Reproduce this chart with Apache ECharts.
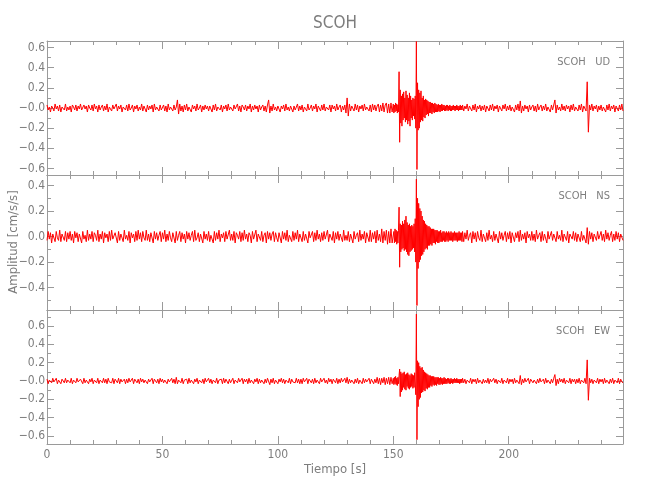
<!DOCTYPE html>
<html><head><meta charset="utf-8">
<script src="https://cdn.jsdelivr.net/npm/echarts@6/dist/echarts.min.js"></script>
<style>html,body{margin:0;padding:0;background:#fff}#c{width:650px;height:500px}</style>
</head><body><div id="c"></div>
<script>
// ---------------- data ----------------
const stationName = 'SCOH';
const components = ['UD', 'NS', 'EW'];
const xTitle = 'Tiempo [s]';
const yTitle = 'Amplitud [cm/s/s]';

// sampling: pre-event 0..149.5 s every 0.5 s, event 150..179.75 s every 0.25 s, post 180..249.5 s every 0.5 s
const preStart = 0, preDt = 0.5;
const eventStart = 150, eventDt = 0.25;
const postStart = 180, postDt = 0.5;

const udPre = [
 .03,-.02,.01,-.04,.02,.00,-.03,.04,-.01,.02,-.03,.03,-.04,.01,.02,-.02,.04,-.03,.01,-.02,
 .02,-.04,.03,.01,-.02,.03,-.03,.02,-.01,.04,-.02,-.03,.03,-.01,.02,-.04,.03,.00,-.02,.03,
 -.03,.04,-.01,.02,-.04,.03,-.02,.01,.03,-.03,.02,-.02,.04,-.04,.01,.02,-.03,.03,-.01,-.02,
 .04,-.03,.02,-.01,.03,-.04,.01,.02,-.02,.03,-.03,.04,-.02,.00,.03,-.04,.02,-.01,.03,-.03,
 .01,-.02,.04,-.03,.02,.01,-.04,.03,-.02,.02,-.01,.03,-.04,.04,-.02,.01,.02,-.03,.03,-.02,
 -.01,.03,-.03,.02,-.04,.04,-.02,.01,.02,-.03,.03,-.02,.01,.08,-.06,.04,-.03,.02,-.04,.03,
 -.02,.04,-.03,.01,.02,-.04,.03,-.01,.02,-.03,.04,-.02,.00,.03,-.04,.02,-.02,.03,-.01,.02,
 -.03,.02,.01,-.04,.03,-.02,.04,-.03,.01,.02,-.02,.03,-.04,.02,-.01,.03,-.03,.04,-.02,.01,
 .02,-.03,.03,-.01,-.02,.04,-.03,.02,-.04,.03,.01,-.02,.03,-.03,.02,-.01,.04,-.04,.02,-.02,
 .03,-.01,.02,-.04,.03,-.02,.01,.03,-.03,.02,-.04,.03,.08,-.05,.02,-.03,.04,-.02,.01,-.03,
 .02,.03,-.04,.02,-.01,.03,-.03,.04,-.02,.01,-.03,.02,.03,-.04,.02,-.02,.01,.04,-.03,.02,
 -.02,.03,-.04,.01,.02,-.03,.04,-.02,.00,.03,-.03,.02,-.01,.04,-.04,.02,.01,-.03,.03,-.02,
 .04,-.03,.01,.02,-.02,.03,-.04,.03,-.01,.02,-.03,.04,-.02,.01,.03,-.04,.02,-.02,.03,-.05,
 .10,-.08,.04,-.03,.02,.01,-.03,.04,-.02,.03,-.04,.02,-.01,.03,-.03,.04,-.02,.01,.02,-.03,
 .03,-.04,.04,-.02,.03,-.03,.02,.04,-.04,.03,-.03,.05,-.04,.03,.05,-.05,.04,-.05,.05,-.04
];
const udEvent = [
 .04,-.05,.03,-.04,.05,-.03,.04,-.05,.03,-.04,
 .36,-.34,.18,-.15,.12,-.18,.14,-.12,.16,-.1,
 .1,-.14,.17,-.12,.13,-.16,.1,-.13,.15,-.18,
 .12,-.1,.08,-.12,.1,-.08,.09,-.11,.12,-.2,
 .66,-.61,.25,-.22,.18,-.2,.15,-.14,.17,-.12,
 .1,-.13,.12,-.09,.08,-.1,.09,-.07,.08,-.06,
 .07,-.08,.06,-.05,.06,-.05,.05,-.06,.05,-.04,
 .04,-.05,.05,-.04,.04,-.04,.03,-.04,.04,-.03,
 .03,-.04,.03,-.03,.04,-.03,.03,-.02,.03,-.03,
 .02,-.03,.03,-.02,.03,-.03,.02,-.02,.03,-.03,
 .02,-.03,.02,-.02,.03,-.02,.02,-.03,.02,-.02,
 .03,-.02,.02,-.03,.02,-.02,.03,-.02,.02,-.02
];
const udPost = [
 .03,-.03,.02,-.01,.04,-.03,.02,.01,-.03,.03,-.02,.04,-.04,.02,-.01,.03,-.03,.02,-.02,.03,
 -.04,.02,.01,-.03,.03,-.02,.04,-.03,.02,-.01,.03,-.04,.02,.02,-.03,.03,-.01,.04,-.03,.02,
 -.02,.03,-.03,.01,.02,-.04,.03,-.02,.04,-.03,.07,-.05,.02,-.03,.03,-.01,.02,-.04,.03,-.02,
 .01,.03,-.03,.02,-.04,.04,-.02,.01,.03,-.03,.02,-.02,.04,-.03,.01,.02,-.04,.03,-.02,.03,
 .08,-.05,.03,-.02,.01,-.03,.04,-.02,.02,-.03,.03,-.01,.02,-.04,.03,-.02,.04,-.03,.01,.02,
 -.03,.03,-.02,.04,-.04,.02,.01,-.03,.26,-.24,.03,-.02,.04,-.03,.02,-.01,.03,-.04,.02,-.02,
 .03,-.03,.01,.02,-.04,.03,-.02,.04,-.03,.02,-.01,.03,-.04,.02,.02,-.03,.03,-.02,.04,-.03
];

const nsPre = [
 -.03,.04,-.02,.03,-.05,.02,.03,-.04,.04,-.01,-.03,.05,-.04,.02,.01,-.03,.04,-.04,.03,-.02,
 .04,-.03,.02,-.05,.04,-.01,.03,-.04,.02,.03,-.05,.04,-.02,.01,-.04,.05,-.03,.02,-.02,.04,
 -.04,.03,.01,-.03,.05,-.04,.02,-.02,.04,-.05,.03,-.01,.02,-.04,.04,-.03,.05,-.02,-.03,.03,
 .02,-.05,.04,-.03,.02,.03,-.04,.05,-.02,.01,-.03,.04,-.05,.03,-.01,.02,-.04,.04,-.03,.05,
 -.02,.03,-.04,.04,-.01,-.03,.05,-.03,.02,-.04,.03,.02,-.05,.04,-.02,.03,-.03,.01,.04,-.04,
 .03,-.02,.05,-.04,.02,-.03,.04,-.01,-.04,.03,.02,-.05,.04,-.03,.01,.04,-.04,.03,-.02,.02,
 -.05,.04,-.02,.03,-.03,.01,.04,-.04,.05,-.03,-.01,.03,-.04,.02,.03,-.05,.04,-.02,.02,-.03,
 .04,-.04,.01,.02,-.05,.04,-.03,.03,-.02,.05,-.04,.02,-.01,.03,-.04,.04,-.02,-.03,.05,-.03,
 .02,-.03,.04,-.05,.03,.01,-.02,.04,-.04,.03,-.03,.05,-.02,.02,-.04,.03,.01,-.05,.04,-.02,
 -.03,.05,-.04,.02,.02,-.03,.04,-.04,.01,.03,-.05,.04,-.02,.03,-.03,.02,.04,-.04,.03,-.01,
 -.04,.03,.02,-.05,.04,-.02,.03,-.03,.05,-.04,.01,.02,-.04,.04,-.03,.03,-.02,.05,-.04,.02,
 .01,-.04,.04,-.03,.02,.03,-.05,.04,-.01,-.02,.04,-.04,.03,-.03,.05,-.02,.02,-.04,.03,-.03,
 .04,-.02,-.03,.05,-.04,.02,.01,-.03,.04,-.05,.03,-.02,.04,-.03,.02,.02,-.04,.05,-.03,.01,
 -.03,.04,-.04,.02,.03,-.05,.04,-.02,.01,.03,-.04,.05,-.03,.02,-.02,.04,-.05,.03,.02,-.04,
 .05,-.04,.03,-.02,.04,-.05,.05,-.03,.02,-.04,.06,-.05,.04,-.03,.05,-.06,.04,-.05,.06,-.05
];
const nsEvent = [
 -.05,.04,-.05,.06,-.04,.05,-.06,.04,-.05,.05,
 .23,-.24,.1,-.12,.09,-.1,.12,-.09,.1,-.11,
 .13,-.1,.16,-.12,.11,-.14,.09,-.15,.1,-.12,
 .08,-.11,.09,-.1,.08,-.09,.1,-.12,.14,-.2,
 .45,-.54,.3,-.25,.26,-.2,.22,-.18,.2,-.15,
 .16,-.14,.13,-.12,.12,-.1,.1,-.09,.09,-.1,
 .08,-.07,.08,-.07,.07,-.06,.06,-.07,.06,-.05,
 .06,-.05,.05,-.06,.05,-.04,.05,-.05,.04,-.05,
 .04,-.04,.05,-.04,.03,-.04,.04,-.03,.04,-.04,
 .03,-.04,.04,-.03,.03,-.04,.04,-.03,.03,-.03,
 .04,-.03,.03,-.04,.03,-.03,.04,-.03,.03,-.03,
 .03,-.04,.03,-.03,.04,-.03,.03,-.03,.03,-.04
];
const nsPost = [
 .04,-.04,.03,-.02,.05,-.03,.01,.03,-.05,.04,-.02,.03,-.04,.04,-.01,-.03,.05,-.04,.02,.02,
 -.04,.03,-.03,.05,-.02,.01,-.04,.04,-.03,.02,.03,-.05,.04,-.02,.03,-.03,.01,.04,-.04,.03,
 -.02,.04,-.05,.03,.02,-.04,.03,-.01,.04,-.04,.05,-.03,.02,-.02,.03,-.05,.04,-.01,.02,-.03,
 .04,-.03,.02,-.04,.05,-.02,.01,.03,-.04,.04,-.03,.02,.03,-.05,.04,-.02,-.02,.04,-.03,.02,
 .03,-.04,.04,-.02,.01,-.03,.05,-.04,.02,.03,-.03,.04,-.05,.02,.01,-.02,.04,-.03,.03,-.04,
 .02,.03,-.04,.04,-.03,.01,.02,-.05,.07,-.06,.04,-.02,.03,-.04,.02,.03,-.03,.04,-.02,-.03,
 .04,-.03,.02,-.04,.05,-.02,.03,-.03,.01,.04,-.04,.02,-.03,.04,-.02,.03,-.04,.02,.03,-.03
];

const ewPre = [
 .02,-.03,.01,.02,-.02,.03,-.01,-.02,.03,-.03,.01,.02,-.03,.02,.00,-.02,.03,-.02,.01,-.01,
 -.02,.03,-.03,.01,.02,-.02,.03,-.01,-.02,.02,.01,-.03,.03,-.02,.01,.02,-.03,.02,-.01,.03,
 -.03,.01,.02,-.02,.03,-.03,.01,.00,-.02,.03,-.02,.02,-.03,.03,-.01,.01,-.02,.03,-.03,.02,
 .01,-.02,.03,-.03,.02,-.01,.01,.02,-.03,.02,-.02,.03,-.01,-.02,.03,-.03,.02,.01,-.02,.02,
 -.03,.03,-.01,.02,-.02,.01,.03,-.03,.02,-.01,-.02,.03,-.03,.02,.01,-.02,.02,-.03,.03,-.01,
 .02,-.02,.01,.03,-.03,.02,-.01,-.02,.03,-.02,.02,-.03,.04,-.03,.01,.02,-.02,.03,-.03,.01,
 -.01,.02,-.03,.03,-.02,.01,.02,-.03,.02,-.01,.03,-.03,.01,.02,-.02,.02,-.03,.03,-.01,-.02,
 .03,-.02,.02,-.03,.01,.02,-.02,.03,-.03,.01,-.01,.02,-.03,.03,-.02,.02,.01,-.03,.02,-.02,
 -.02,.03,-.03,.01,.02,-.02,.03,-.01,-.02,.03,-.03,.02,-.01,.02,-.03,.03,-.02,.01,.02,-.03,
 .02,-.01,.03,-.03,.02,-.02,.01,.03,-.03,.02,-.02,.03,.05,-.04,.02,-.02,.03,-.03,.01,.02,
 -.03,.02,-.01,.03,-.02,.02,-.03,.01,.02,-.02,.03,-.03,.02,-.01,.01,-.02,.03,-.02,.02,-.03,
 .02,-.03,.03,-.01,-.02,.03,-.03,.02,.01,-.02,.02,-.03,.03,-.02,.01,.02,-.03,.03,-.01,-.02,
 .03,-.02,.01,-.03,.03,-.01,.02,-.03,.02,.01,-.02,.03,-.03,.02,-.02,.03,-.01,-.02,.03,-.02,
 .04,-.03,.02,-.02,.01,.03,-.03,.02,-.02,.03,-.03,.01,.02,-.03,.03,-.02,.02,-.01,-.02,.03,
 -.03,.02,.03,-.03,.02,-.02,.04,-.03,.03,-.04,.03,-.02,.04,-.04,.03,-.03,.04,-.04,.04,-.03
];
const ewEvent = [
 .03,-.04,.04,-.03,.05,-.04,.03,-.05,.04,-.03,
 .06,.13,-.17,.1,-.12,.08,-.1,.09,-.07,.1,
 -.09,.07,-.1,.08,-.06,.09,-.08,.07,-.09,.06,
 -.07,.08,-.06,.07,-.08,.06,-.07,.09,.1,-.15,
 .73,-.64,.22,-.28,.2,-.2,.16,-.18,.14,-.13,
 .15,-.12,.12,-.1,.1,-.11,.09,-.08,.08,-.09,
 .07,-.07,.06,-.07,.06,-.05,.05,-.06,.05,-.04,
 .05,-.05,.04,-.04,.04,-.05,.04,-.03,.04,-.04,
 .03,-.04,.04,-.03,.03,-.04,.03,-.03,.04,-.03,
 .03,-.03,.02,-.03,.03,-.02,.03,-.03,.02,-.03,
 .03,-.02,.02,-.03,.02,-.02,.03,-.02,.02,-.02,
 .03,-.02,.02,-.02,.02,-.03,.02,-.02,.02,-.02
];
const ewPost = [
 .03,-.02,.02,-.03,.01,.02,-.02,.03,-.03,.02,-.01,.02,-.03,.03,-.02,.01,.02,-.03,.02,-.02,
 .01,-.02,.03,-.03,.02,-.01,-.02,.03,-.02,.02,-.03,.01,.02,-.02,.03,-.03,.01,.02,-.02,.03,
 -.03,.02,-.01,.02,-.03,.03,-.02,.01,.02,-.03,.06,-.04,.02,-.02,.03,-.01,-.02,.03,-.03,.02,
 .02,-.02,.01,.03,-.03,.02,-.02,.03,-.01,-.02,.02,-.03,.03,-.02,.01,.02,-.03,.02,-.02,.03,
 .07,-.05,.02,-.03,.03,-.01,.02,-.02,.03,-.03,.01,.02,-.02,.03,-.03,.02,-.01,.02,-.03,.02,
 -.02,.03,-.03,.01,.02,-.02,.03,-.03,.23,-.21,.03,-.02,.02,-.03,.01,.02,-.02,.03,-.03,.02,
 -.01,.02,-.03,.03,-.02,.01,.02,-.03,.02,-.02,.03,-.03,.01,.02,-.02,.03,-.03,.02,-.01,-.02
];

// axis ticks and labels
const xRange = [0, 249.5];
const xTickInterval = 50;
const udRange = [-0.665, 0.665];
const nsRange = [-0.575, 0.482];
const ewRange = [-0.687, 0.774];
const udTickValues = [-0.6, -0.4, -0.2, 0, 0.2, 0.4, 0.6];
const udTickLabels = ['\u22120.6', '\u22120.4', '\u22120.2', '\u22120.0', '0.2', '0.4', '0.6'];
const nsTickValues = [-0.4, -0.2, 0, 0.2, 0.4];
const nsTickLabels = ['\u22120.4', '\u22120.2', '0.0', '0.2', '0.4'];
const ewTickValues = [-0.6, -0.4, -0.2, 0, 0.2, 0.4, 0.6];
const ewTickLabels = ['\u22120.6', '\u22120.4', '\u22120.2', '\u22120.0', '0.2', '0.4', '0.6'];
const udMinorTicks = [-0.6, -0.5, -0.4, -0.3, -0.2, -0.1, 0, 0.1, 0.2, 0.3, 0.4, 0.5, 0.6];
const nsMinorTicks = [-0.5, -0.4, -0.3, -0.2, -0.1, 0, 0.1, 0.2, 0.3, 0.4];
const ewMinorTicks = [-0.6, -0.5, -0.4, -0.3, -0.2, -0.1, 0, 0.1, 0.2, 0.3, 0.4, 0.5, 0.6, 0.7];

// ---------------- build ----------------
function buildTrace(pre, ev, post) {
  const d = [];
  pre.forEach((v, i) => d.push([preStart + i * preDt, v]));
  ev.forEach((v, i) => d.push([eventStart + i * eventDt, v]));
  post.forEach((v, i) => d.push([postStart + i * postDt, v]));
  return d;
}
const traces = [buildTrace(udPre, udEvent, udPost), buildTrace(nsPre, nsEvent, nsPost), buildTrace(ewPre, ewEvent, ewPost)];
const ranges = [udRange, nsRange, ewRange];
const tickValues = [udTickValues, nsTickValues, ewTickValues];
const tickLabels = [udTickLabels, nsTickLabels, ewTickLabels];
const minorTicks = [udMinorTicks, nsMinorTicks, ewMinorTicks];

const FONT = "'Liberation Sans Narrow', 'DejaVu Sans Condensed', 'Liberation Sans', sans-serif";
const axisColor = '#9a9a9a';
const textColor = '#7d7d7d';
const gridLeft = 47, gridRight = 27;
const panelTops = [41, 175, 310];
const panelHeights = [134, 135, 134];

const grids = [], xAxes = [], yAxes = [], series = [], graphics = [];
for (let g = 0; g < 3; g++) {
  grids.push({left: gridLeft, right: gridRight, top: panelTops[g], height: panelHeights[g], outerBoundsMode: 'none', containLabel: false});
  ['bottom', 'top'].forEach(pos => {
    xAxes.push({
      gridIndex: g, type: 'value', position: pos, min: xRange[0], max: xRange[1], interval: xTickInterval,
      axisLine: {show: true, onZero: false, lineStyle: {color: axisColor, width: 1}},
      axisTick: {show: true, inside: true, length: 8, lineStyle: {color: axisColor, width: 1}},
      minorTick: {show: true, splitNumber: 5, length: 4, lineStyle: {color: axisColor, width: 1}},
      axisLabel: {show: pos === 'bottom' && g === 2, margin: 5, color: textColor, fontSize: 12, fontFamily: FONT, showMaxLabel: false, showMinLabel: true},
      splitLine: {show: false}, minorSplitLine: {show: false}
    });
  });
  const tv = tickValues[g], tl = tickLabels[g];
  ['left', 'right'].forEach(pos => {
    yAxes.push({
      gridIndex: g, type: 'value', position: pos, min: ranges[g][0], max: ranges[g][1],
      axisLine: {show: true, onZero: false, lineStyle: {color: axisColor, width: 1}},
      axisTick: {show: true, inside: true, length: 7, customValues: tv, lineStyle: {color: axisColor, width: 1}},
      axisLabel: {show: pos === 'left', customValues: tv, margin: 2, color: textColor, fontSize: 12, fontFamily: FONT,
        formatter: v => { for (let k = 0; k < tv.length; k++) if (Math.abs(tv[k] - v) < 1e-6) return tl[k]; return ''; }},
      splitLine: {show: false}
    });
    yAxes.push({
      gridIndex: g, type: 'value', position: pos, min: ranges[g][0], max: ranges[g][1],
      axisLine: {show: false, onZero: false},
      axisTick: {show: true, inside: true, length: 4, customValues: minorTicks[g], lineStyle: {color: axisColor, width: 1}},
      axisLabel: {show: false},
      splitLine: {show: false}
    });
  });
  series.push({
    type: 'line', xAxisIndex: 2 * g, yAxisIndex: 4 * g, data: traces[g],
    symbol: 'none', showSymbol: false, silent: true, clip: true,
    lineStyle: {color: '#ff0000', width: 1}, z: 3
  });
  graphics.push({
    type: 'text', x: 610, y: panelTops[g] + 21, z: 10,
    style: {text: stationName + '   ' + components[g], fill: textColor, font: '11px ' + FONT, align: 'right', verticalAlign: 'middle'}
  });
}
graphics.push({type: 'text', x: 335, y: 24, style: {text: stationName, fill: textColor, font: '17px ' + FONT, align: 'center', verticalAlign: 'middle'}});
graphics.push({type: 'text', x: 335, y: 470, style: {text: xTitle, fill: textColor, font: '13px ' + FONT, align: 'center', verticalAlign: 'middle'}});
graphics.push({type: 'text', x: 14, y: 242, rotation: Math.PI / 2, style: {text: yTitle, fill: textColor, font: '13px ' + FONT, align: 'center', verticalAlign: 'middle'}});

const chart = echarts.init(document.getElementById('c'), null, {renderer: 'canvas'});
chart.setOption({
  animation: false,
  backgroundColor: '#ffffff',
  textStyle: {fontFamily: FONT},
  grid: grids, xAxis: xAxes, yAxis: yAxes, series: series, graphic: graphics
});
</script>
</body></html>
